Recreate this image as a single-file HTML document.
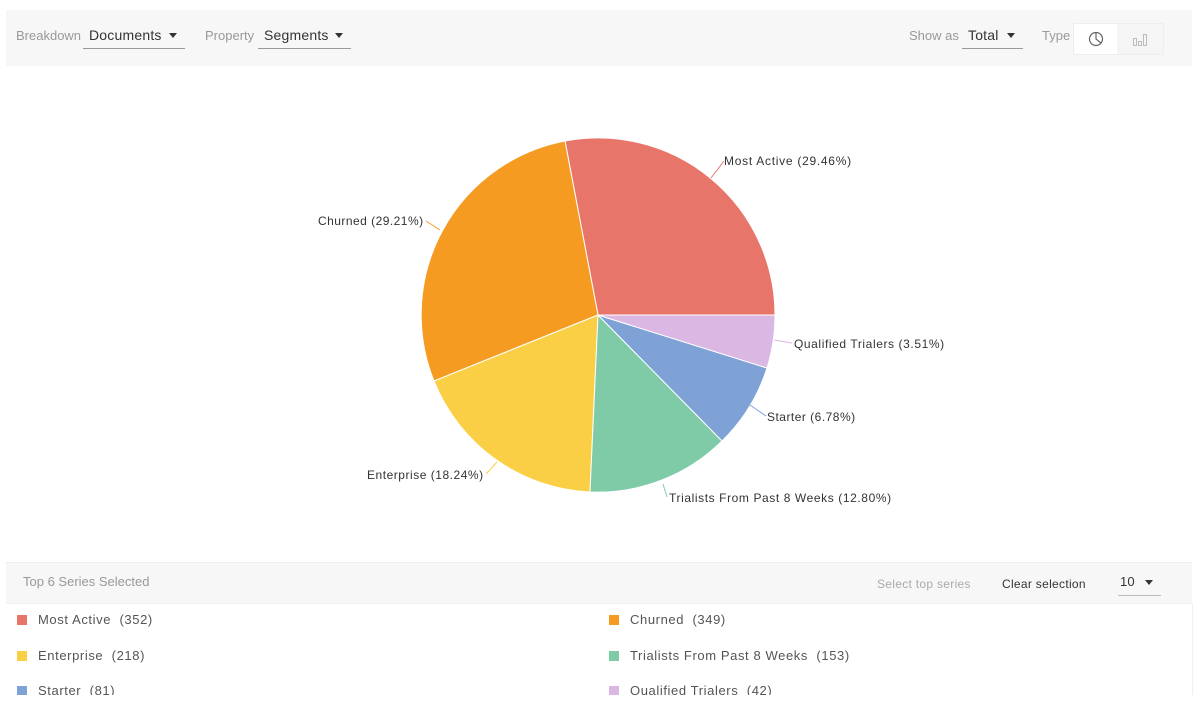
<!DOCTYPE html>
<html><head><style>
body{margin:0;width:1200px;height:725px;background:#fff;font-family:"Liberation Sans",sans-serif;position:relative;overflow:hidden}
.top{position:absolute;left:6px;top:10px;width:1186px;height:56px;background:#f7f7f7}
.t{position:absolute;font-size:13px;color:#999}
.d{position:absolute;font-size:14px;color:#333;border-bottom:1px solid #999;height:23px;box-sizing:border-box;padding-left:6px;padding-top:1px;letter-spacing:0.2px}
.tri{position:absolute;right:8px;top:7px;width:0;height:0;border-left:4px solid transparent;border-right:4px solid transparent;border-top:5px solid #333}
.bot{position:absolute;left:6px;top:562px;width:1186px;height:40px;background:#f7f7f7;border-top:1px solid #eee;border-bottom:1px solid #eee}
.li{position:absolute;font-size:13px;color:#555;letter-spacing:0.6px}
.sw{display:inline-block;width:10px;height:10px;margin-right:11px;vertical-align:-1px}
</style></head><body>
<div class="top">
<div class="t" style="left:10px;top:18px">Breakdown</div>
<div class="d" style="left:77px;top:16px;width:102px">Documents<span class="tri"></span></div>
<div class="t" style="left:199px;top:18px">Property</div>
<div class="d" style="left:252px;top:16px;width:93px">Segments<span class="tri"></span></div>
<div class="t" style="left:903px;top:18px">Show as</div>
<div class="d" style="left:956px;top:16px;width:61px">Total<span class="tri"></span></div>
<div class="t" style="left:1036px;top:18px">Type</div>
<div style="position:absolute;left:1067px;top:13px;width:89px;height:30px;border:1px solid #eee;background:#f5f5f5">
<div style="position:absolute;left:0;top:0;width:43px;height:30px;background:#fff"></div>
<svg style="position:absolute;left:0;top:0" width="89" height="30"><circle cx="22" cy="15" r="6.5" fill="none" stroke="#666" stroke-width="1.2"/><path d="M22 8.5V15L27 19" fill="none" stroke="#666" stroke-width="1.2"/><g fill="none" stroke="#bbb"><rect x="59.5" y="14.5" width="3" height="7"/><rect x="64.5" y="17.5" width="3" height="4"/><rect x="69.5" y="10.5" width="3" height="11"/></g></svg>
</div>
</div>
<svg style="position:absolute;left:0;top:0" width="1200" height="560" font-family="Liberation Sans, sans-serif" font-size="12" fill="#333" letter-spacing="0.9">
<g stroke="#fff" stroke-width="1">
<path d="M598 315L775 315A177 177 0 0 0 565 141Z" fill="#e8756a"/>
<path d="M598 315L565 141A177 177 0 0 0 434 381Z" fill="#f59b22"/>
<path d="M598 315L434 381A177 177 0 0 0 590 492Z" fill="#fbcf45"/>
<path d="M598 315L590 492A177 177 0 0 0 722 441Z" fill="#7fcba8"/>
<path d="M598 315L722 441A177 177 0 0 0 767 368Z" fill="#7ea1d6"/>
<path d="M598 315L767 368A177 177 0 0 0 775 315Z" fill="#dbb8e3"/>
</g>
<g fill="none" stroke-width="1">
<path d="M711 178L724 161" stroke="#e8756a"/>
<path d="M440 230L426 221" stroke="#f59b22"/>
<path d="M497 462L486 474" stroke="#fbcf45"/>
<path d="M663 484L667 497" stroke="#7fcba8"/>
<path d="M750 405L766 416" stroke="#7ea1d6"/>
<path d="M774 340L792 343" stroke="#dbb8e3"/>
</g>
<text x="724" y="165" textLength="128">Most Active (29.46%)</text>
<text x="318" y="225" textLength="106">Churned (29.21%)</text>
<text x="367" y="479" textLength="117">Enterprise (18.24%)</text>
<text x="669" y="502" textLength="223">Trialists From Past 8 Weeks (12.80%)</text>
<text x="767" y="421" textLength="89">Starter (6.78%)</text>
<text x="794" y="348" textLength="151">Qualified Trialers (3.51%)</text>
</svg>
<div class="bot">
<div class="t" style="left:17px;top:11px">Top 6 Series Selected</div>
<div class="t" style="left:871px;top:14px;font-size:12px;color:#aaa;letter-spacing:0.3px">Select top series</div>
<div class="t" style="left:996px;top:14px;font-size:12px;color:#333;letter-spacing:0.3px">Clear selection</div>
<div class="d" style="left:1112px;top:10px;width:43px;font-size:13px;border-color:#bbb;padding-left:2px">10<span class="tri"></span></div>
</div>
<div style="position:absolute;left:6px;top:603px;width:1186px;height:92px;overflow:hidden;border-right:1px solid #f0f0f0">
<div class="li" style="left:11px;top:9px"><span class="sw" style="background:#e8756a"></span>Most Active&nbsp; (352)</div>
<div class="li" style="left:603px;top:9px"><span class="sw" style="background:#f59b22"></span>Churned&nbsp; (349)</div>
<div class="li" style="left:11px;top:45px"><span class="sw" style="background:#fbcf45"></span>Enterprise&nbsp; (218)</div>
<div class="li" style="left:603px;top:45px"><span class="sw" style="background:#7fcba8"></span>Trialists From Past 8 Weeks&nbsp; (153)</div>
<div class="li" style="left:11px;top:80px"><span class="sw" style="background:#7ea1d6"></span>Starter&nbsp; (81)</div>
<div class="li" style="left:603px;top:80px"><span class="sw" style="background:#dbb8e3"></span>Qualified Trialers&nbsp; (42)</div>
</div>
</body></html>
